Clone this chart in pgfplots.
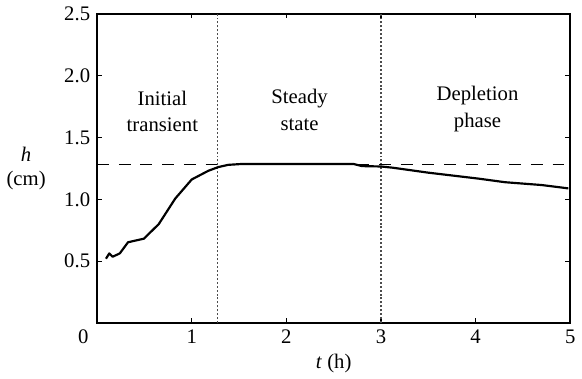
\documentclass[border=0pt]{standalone}
\usepackage{fontspec}
\setmainfont{Liberation Serif}
\usepackage{pgfplots}
\pgfplotsset{compat=1.18}
\begin{document}
\begin{tikzpicture}
\begin{axis}[
  scale only axis,
  width=240pt, height=157pt,
  xmin=0, xmax=5, ymin=0, ymax=2.5,
  xtick={1,2,3,4,5},
  ytick={0.5,1.0,1.5,2.0,2.5},
  extra x ticks={0},
  extra x tick style={major tick length=0pt, xticklabel style={xshift=-7pt}},
  tick align=inside,
  major tick length=2.5pt,
  axis line style={line width=1pt},
  tick style={line width=0.6pt, black},
  /pgf/number format/assume math mode=true,
  font=\fontsize{10.5}{12}\selectfont,
  yticklabel style={/pgf/number format/fixed, /pgf/number format/fixed zerofill, /pgf/number format/precision=1},
  xlabel={\textit{t} (h)},
  ylabel={\textit{h}\\(cm)},
  ylabel style={rotate=-90, at={(axis description cs:-0.15,0.5)}, anchor=center, align=center},
  xlabel style={yshift=2pt},
  clip=false,
]
\addplot[gray!60!black, line width=0.6pt, dash pattern=on 1pt off 1pt] coordinates {(1.27,0) (1.27,2.5)};
\addplot[gray!60!black, line width=0.6pt, dash pattern=on 1pt off 1pt] coordinates {(3.0,0) (3.0,2.5)};
\addplot[black, line width=0.5pt, dash pattern=on 6pt off 5pt] coordinates {(0,1.285) (5,1.285)};
\addplot[black, line width=1.1pt, line join=round] coordinates {
(0.094,0.52) (0.129,0.563) (0.164,0.536) (0.24,0.563) (0.327,0.653)
(0.495,0.682) (0.652,0.80) (0.826,1.006) (1.0,1.16) (1.175,1.23)
(1.28,1.26) (1.384,1.278) (1.524,1.285) (2.0,1.285) (2.71,1.285)
(2.8,1.268) (3.0,1.265) (3.125,1.255) (3.5,1.215) (4.03,1.167)
(4.31,1.138) (4.7,1.115) (4.98,1.088)};
\node[align=center, font=\fontsize{10.5}{13.5}\selectfont] at (axis cs:0.69,1.71) {Initial\\transient};
\node[align=center, font=\fontsize{10.5}{13.5}\selectfont] at (axis cs:2.14,1.72) {Steady\\state};
\node[align=center, font=\fontsize{10.5}{13.5}\selectfont] at (axis cs:4.02,1.73) {Depletion\\phase};
\end{axis}
\end{tikzpicture}
\end{document}
